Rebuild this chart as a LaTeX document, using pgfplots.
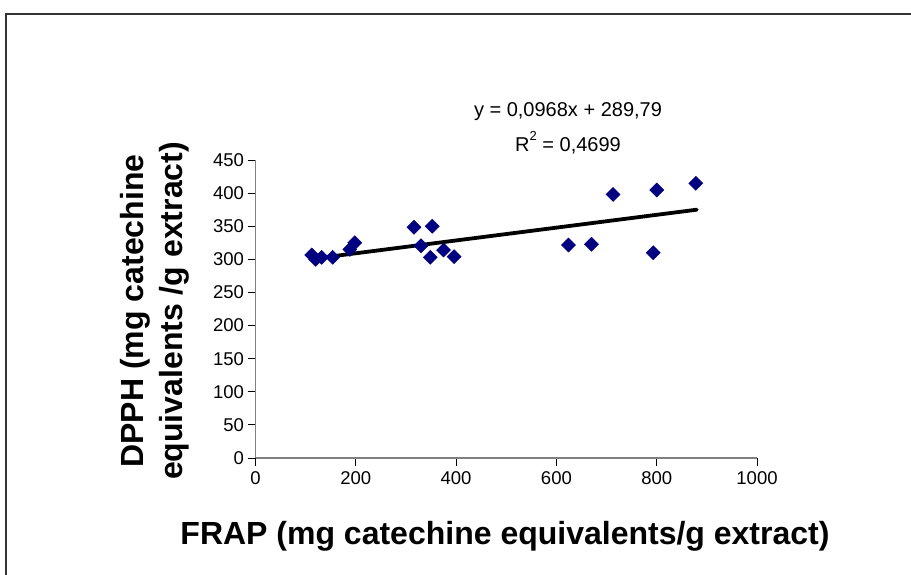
\documentclass[border=0pt]{standalone}
\usepackage{pgfplots}
\pgfplotsset{compat=1.18}
\usepackage{fontspec}
\setmainfont{Liberation Sans}
\definecolor{navy}{HTML}{000080}
\definecolor{axgray}{HTML}{808080}
\newcommand\tf{\fontsize{18.5}{22}\selectfont}
\begin{document}
\begin{tikzpicture}[x=1pt,y=1pt]
\useasboundingbox (0,0) rectangle (911,-575);
\draw[black!80, line width=1.6pt] (6,-576) -- (6,-14) -- (912,-14);
\begin{axis}[
  at={(255.5pt,-458pt)}, anchor=south west,
  scale only axis, width=501.5pt, height=298pt,
  xmin=0, xmax=1000, ymin=0, ymax=450,
  axis x line*=bottom, axis y line*=left,
  axis line style={axgray, line width=1.3pt, -},
  xtick={0,200,400,600,800,1000},
  xticklabels={{\tf 0},{\tf 200},{\tf 400},{\tf 600},{\tf 800},{\tf 1000}},
  ytick={0,50,100,150,200,250,300,350,400,450},
  yticklabels={{\tf 0},{\tf 50},{\tf 100},{\tf 150},{\tf 200},{\tf 250},{\tf 300},{\tf 350},{\tf 400},{\tf 450}},
  tick align=outside, major tick length=8pt,
  tick style={black, line width=0.8pt},
  xticklabel style={yshift=-2pt},
  clip=false,
]
\addplot[only marks, mark=square*, mark size=5pt, mark options={rotate=45, fill=navy, draw=navy}]
coordinates {
(112,306.6) (120,300) (132,303) (154,303) (188,315) (198,325)
(316,348.4) (352.5,350) (330,320.6) (348.5,303) (375,314) (396,304)
(713,398) (800,404.7) (878,414.8) (624,321.6) (670,322.7) (793,310)
};
\addplot[black, line width=3.8pt, line cap=round] coordinates {(110,300.44) (880,374.97)};
\end{axis}
\node[font=\fontsize{20}{24}\selectfont] at (568,-112) {y = 0,0968x + 289,79};
\node[font=\fontsize{20}{24}\selectfont] at (568,-143) {R\raisebox{0.55em}{\fontsize{13}{14}\selectfont 2} = 0,4699};
\node[font=\fontsize{32}{39}\selectfont\bfseries] at (505,-536) {FRAP (mg catechine equivalents/g extract)};
\node[font=\fontsize{32}{39}\selectfont\bfseries, rotate=90, align=center] at (155,-311) {DPPH (mg catechine\\equivalents /g extract)};
\end{tikzpicture}
\end{document}
